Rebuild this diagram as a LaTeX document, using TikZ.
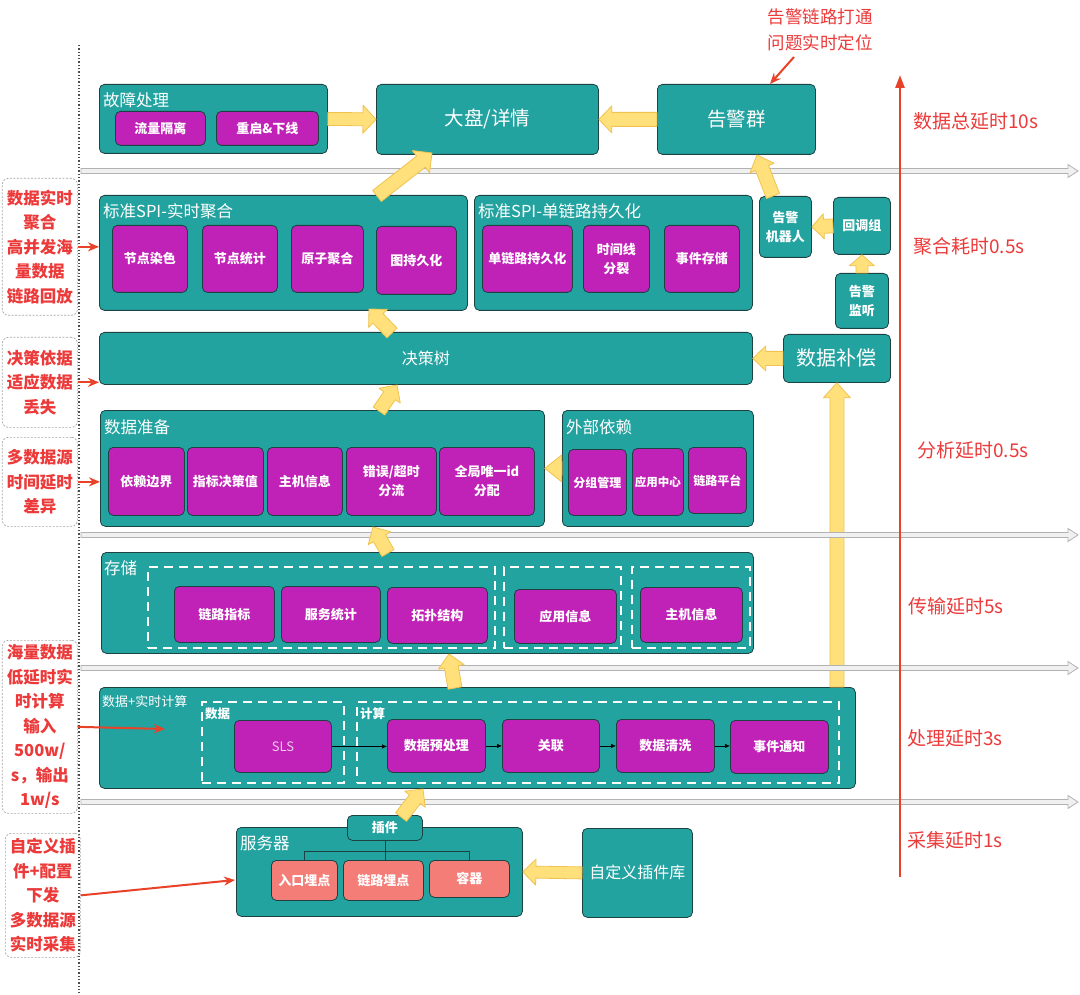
\documentclass[tikz,border=0pt]{standalone}
\usepackage{fontspec}
\setmainfont{Noto Sans CJK SC}
\usetikzlibrary{calc,arrows.meta}
\definecolor{teal1}{RGB}{35,163,160}
\definecolor{bord}{RGB}{28,66,66}
\definecolor{purp}{RGB}{192,33,182}
\definecolor{salm}{RGB}{245,125,120}
\definecolor{yel}{RGB}{255,224,122}
\definecolor{yelb}{RGB}{240,194,80}
\definecolor{redt}{RGB}{236,58,58}
\definecolor{reda}{RGB}{232,66,40}
\definecolor{slsc}{RGB}{240,200,238}
\newcommand{\fsz}[2]{\fontsize{#1}{#2}\selectfont}
\newcommand{\bx}[7]{\node[#2, anchor=north west, minimum width={(#5)-(#3)}, minimum height={(#6)-(#4)}] (#1) at (#3,#4) {#7};}
\newcommand{\fatarr}[6][fat]{%
  \coordinate (fah) at ($(#3)!#6!(#2)$);
  \draw[#1] ($(#2)!#4!90:(#3)$) -- ($(fah)!#4!90:(#3)$) -- ($(fah)!#5!90:(#3)$) -- (#3) -- ($(fah)!#5!-90:(#3)$) -- ($(fah)!#4!-90:(#3)$) -- ($(#2)!#4!-90:(#3)$) -- cycle;}
\tikzset{
  tbox/.style={draw=bord, fill=teal1, rounded corners=5pt, line width=0.8pt, text=white, inner sep=0pt, align=center},
  pbox/.style={draw=bord, fill=purp, rounded corners=5pt, line width=0.8pt, text=white, font=\bfseries\fsz{13}{19}, align=center, inner sep=0pt},
  sbox/.style={draw=bord, fill=salm, rounded corners=5pt, line width=0.8pt, text=white, font=\bfseries\fsz{13}{15}, align=center, inner sep=0pt},
  smallt/.style={font=\bfseries\fsz{13}{19}},
  dbox/.style={draw=white, dash pattern=on 9pt off 6pt, line width=1.8pt, inner sep=0pt},
  ttl/.style={anchor=west, text=white, font=\fsz{16.5}{18}, inner sep=0pt},
  lbl/.style={anchor=west, text=white, font=\bfseries\fsz{12.5}{14}, inner sep=0pt},
  fat/.style={fill=yel, draw=yelb, line width=0.8pt, line join=round},
  hline/.style={fill=gray!12, draw=gray!60, line width=0.8pt},
  note/.style={draw=gray!70, dash pattern=on 2pt off 1.5pt, rounded corners=6pt, line width=0.7pt, text=redt, align=center, font=\bfseries\fsz{16.5}{24.5}, inner sep=0pt},
  redlab/.style={text=redt, anchor=west, font=\fsz{19}{22}, inner sep=0pt},
  rarr/.style={draw=reda, line width=2pt, -{Stealth[length=11pt,width=9pt]}},
  tree/.style={draw=bord, line width=0.8pt},
  sarr/.style={draw=black, line width=0.7pt, -{Latex[length=5pt,width=4.5pt]}},
}
\begin{document}
\begin{tikzpicture}[x=1pt,y=-1pt]
\useasboundingbox (0,0) rectangle (1080,995);
\fill[white] (0,0) rectangle (1080,995);

% dotted separator
\coordinate (vd1) at (79,45);
\coordinate (vd2) at (79,995);
\draw[dotted, line width=1.3pt, black!70] (vd1) -- (vd2);

% boxes
\bx{gz}{tbox}{99}{84}{327}{153}{}
\node[ttl] (gzt) at (103,100) {故障处理};
\bx{llgl}{pbox}{115}{111}{205}{145}{流量隔离}
\bx{cq}{pbox}{216}{111}{318}{145}{重启\&下线}
\bx{dp}{tbox,font=\fsz{19.5}{22}}{376}{84}{598}{154}{大盘/详情}
\bx{gjq}{tbox,font=\fsz{19.5}{22}}{657}{84}{815}{154}{告警群}

\bx{spa}{tbox}{99}{195}{467}{310}{}
\node[ttl] (spat) at (103,211) {标准SPI-实时聚合};
\bx{jdrs}{pbox}{112}{225}{187}{292}{节点染色}
\bx{jdtj}{pbox}{202}{225}{277}{292}{节点统计}
\bx{yzjh}{pbox}{291}{225}{363}{292}{原子聚合}
\bx{tcjh}{pbox}{376}{226}{456}{294}{图持久化}
\bx{spb}{tbox}{474}{195}{752}{310}{}
\node[ttl] (spbt) at (478,211) {标准SPI-单链路持久化};
\bx{dll}{pbox}{482}{225}{572}{292}{单链路持久化}
\bx{sjx}{pbox}{583}{225}{649}{292}{时间线\\分裂}
\bx{sjcc}{pbox}{664}{225}{739}{292}{事件存储}
\bx{jqr}{tbox,smallt}{759}{196}{811}{257}{告警\\机器人}
\bx{hdz}{tbox,smallt}{833}{197}{890}{254}{回调组}
\bx{jt}{tbox,smallt}{835}{273}{888}{328}{告警\\监听}

\bx{jcs}{tbox,font=\fsz{16}{18}}{99}{332}{752}{384}{决策树}
\bx{sjbc}{tbox,font=\fsz{20}{22}}{783}{334}{890}{382}{数据补偿}

\bx{sjzb}{tbox}{100}{410}{544}{526}{}
\node[ttl] (sjzbt) at (104,427) {数据准备};
\bx{yl}{pbox}{108}{447}{184}{515}{依赖边界}
\bx{zb}{pbox}{187}{447}{263}{515}{指标决策值}
\bx{zj1}{pbox}{267}{447}{342}{515}{主机信息}
\bx{cw}{pbox}{346}{447}{436}{515}{错误/超时\\分流}
\bx{qj}{pbox}{439}{447}{534}{515}{全局唯一id\\分配}
\bx{wb}{tbox}{562}{410}{753}{526}{}
\node[ttl] (wbt) at (566,427) {外部依赖};
\bx{fz}{pbox,font=\bfseries\fsz{12}{14}}{568}{449}{626}{515}{分组管理}
\bx{yyzx}{pbox,font=\bfseries\fsz{11.5}{14}}{632}{448}{683}{515}{应用中心}
\bx{llpt}{pbox,font=\bfseries\fsz{12}{14}}{688}{447}{746}{513}{链路平台}

\bx{cc}{tbox}{101}{552}{753}{653}{}
\node[ttl] (cct) at (104,568) {存储};
\bx{dsa}{dbox}{147}{566}{494}{647}{}
\bx{dsb}{dbox}{503}{566}{620}{647}{}
\bx{dsc}{dbox}{631}{566}{749}{647}{}
\bx{llzb}{pbox}{174}{586}{274}{642}{链路指标}
\bx{fwtj}{pbox}{281}{586}{380}{642}{服务统计}
\bx{tpjg}{pbox}{387}{587}{487}{643}{拓扑结构}
\bx{yyxx}{pbox}{514}{589}{616}{643}{应用信息}
\bx{zj2}{pbox}{640}{587}{742}{642}{主机信息}

\bx{ss}{tbox}{99}{687}{855}{788}{}
\node[ttl,font=\fsz{13}{15}] (sst) at (102,702) {数据+实时计算};
\bx{dsd}{dbox}{201}{701}{343}{782}{}
\node[lbl] (dsdt) at (205,714) {数据};
\bx{dse}{dbox}{356}{701}{838}{782}{}
\node[lbl] (dset) at (360,714) {计算};
\bx{sls}{pbox,font=\fsz{13}{15},text=slsc}{234}{720}{331}{772}{SLS}
\bx{yc}{pbox}{387}{719}{485}{772}{数据预处理}
\bx{gl}{pbox}{502}{719}{599}{772}{关联}
\bx{qx}{pbox}{616}{719}{714}{772}{数据清洗}
\bx{tz}{pbox}{730}{720}{828}{773}{事件通知}
\draw[sarr] (sls.east) -- (sls.east -| yc.west);
\draw[sarr] (yc.east) -- (yc.east -| gl.west);
\draw[sarr] (gl.east) -- (gl.east -| qx.west);
\draw[sarr] (qx.east) -- (qx.east -| tz.west);

\bx{fwq}{tbox}{236}{827}{522}{916}{}
\node[ttl] (fwqt) at (240,843) {服务器};
\bx{cj}{tbox,font=\bfseries\fsz{13}{15}}{347}{815}{422}{840}{插件}
\bx{rk}{sbox}{271}{860}{337}{900}{入口埋点}
\bx{ll}{sbox}{343}{860}{423}{900}{链路埋点}
\bx{rq}{sbox}{429}{860}{509}{897}{容器}
\draw[tree] (cj.south) -- ++(0,11) coordinate (tj);
\draw[tree] (rk.north) |- (tj) -| (rq.north);
\draw[tree] (tj) -- (tj |- ll.north);
\bx{zdy}{tbox,font=\fsz{16}{18}}{582}{828}{692}{917}{自定义插件库}

% yellow long arrow (behind gray lines)
\coordinate (L1) at (ss.north -| sjbc.south);
\fatarr{L1}{sjbc.south}{7pt}{13.5pt}{15pt}

% gray horizontal arrows
\coordinate (h1a) at (81,171);  \coordinate (h1b) at (1078,171);
\coordinate (h2a) at (81,535);  \coordinate (h2b) at (1078,535);
\coordinate (h3a) at (81,668);  \coordinate (h3b) at (1078,668);
\coordinate (h4a) at (81,802);  \coordinate (h4b) at (1078,802);
\fatarr[hline]{h1a}{h1b}{2.5pt}{6.5pt}{10pt}
\fatarr[hline]{h2a}{h2b}{2.5pt}{6.5pt}{10pt}
\fatarr[hline]{h3a}{h3b}{2.5pt}{6.5pt}{10pt}
\fatarr[hline]{h4a}{h4b}{2.5pt}{6.5pt}{10pt}

% yellow block arrows
\fatarr{gz.east}{dp.west}{6.5pt}{14pt}{13pt}
\fatarr{gjq.west}{dp.east}{7pt}{13.5pt}{13pt}
\coordinate (ya3s) at (377,196); \coordinate (ya3e) at (432,153);
\fatarr{ya3s}{ya3e}{7pt}{14pt}{14pt}
\coordinate (ya4s) at (773,196); \coordinate (ya4e) at (757,155);
\fatarr{ya4s}{ya4e}{7pt}{13pt}{14pt}
\fatarr{hdz.west}{jqr.east}{7pt}{12.5pt}{12pt}
\fatarr{jt.north}{hdz.south}{6pt}{12.5pt}{11pt}
\coordinate (ya7s) at (392,333); \coordinate (ya7e) at (369,309);
\fatarr{ya7s}{ya7e}{7pt}{13pt}{13pt}
\fatarr{sjbc.west}{jcs.east}{7pt}{12.5pt}{13pt}
\coordinate (ya9s) at (379,411); \coordinate (ya9e) at (397,385);
\fatarr{ya9s}{ya9e}{7pt}{13pt}{13pt}
\fatarr{wb.west}{sjzb.east}{7pt}{13.5pt}{17pt}
\coordinate (ya11s) at (388,553); \coordinate (ya11e) at (373,527);
\fatarr{ya11s}{ya11e}{7pt}{13pt}{13pt}
\coordinate (ya12s) at (455,688); \coordinate (ya12e) at (449,654);
\fatarr{ya12s}{ya12e}{7pt}{13pt}{13pt}
\coordinate (ya14s) at (401,817); \coordinate (ya14e) at (423,789);
\fatarr{ya14s}{ya14e}{7pt}{13pt}{13pt}
\fatarr{zdy.west}{fwq.east}{6pt}{13pt}{13pt}

% annotation boxes on the left
\bx{n1}{note}{2}{178}{77}{315}{数据实时\\聚合\\高并发海\\量数据\\链路回放}
\bx{n2}{note}{2}{337}{77}{427}{决策依据\\适应数据\\丢失}
\bx{n3}{note}{2}{437}{77}{526}{多数据源\\时间延时\\差异}
\bx{n4}{note}{2}{640}{77}{813}{海量数据\\低延时实\\时计算\\输入\\500w/\\s，输出\\1w/s}
\bx{n5}{note}{5}{833}{80}{957}{自定义插\\件+配置\\下发\\多数据源\\实时采集}
\draw[rarr] (n1.east) -- (n1.east -| spa.west);
\draw[rarr] (n2.east) -- (n2.east -| jcs.west);
\draw[rarr] (n3.east) -- (n3.east -| sjzb.west);
\coordinate (a4e) at (165,729);
\draw[rarr] (n4.east) -- (a4e);
\coordinate (a5e) at (235,880);
\draw[rarr] (n5.east) -- (a5e);

% top annotation
\node[text=redt, align=center, font=\fsz{17.5}{25.5}, inner sep=0pt] (ann) at (820,30) {告警链路打通\\问题实时定位};
\coordinate (ta1) at (794,57);
\coordinate (ta2) at (770,84);
\draw[rarr] (ta1) -- (ta2);

% red vertical timeline
\coordinate (rvb) at (900,877);
\coordinate (rvt) at (900,75);
\draw[draw=reda, line width=2.5pt, -{Triangle[length=13pt,width=9pt]}] (rvb) -- (rvt);
\node[redlab] (r1) at (913,121) {数据总延时10s};
\node[redlab] (r2) at (913,246) {聚合耗时0.5s};
\node[redlab] (r3) at (917,450) {分析延时0.5s};
\node[redlab] (r4) at (908,606) {传输延时5s};
\node[redlab] (r5) at (907,738) {处理延时3s};
\node[redlab] (r6) at (907,840) {采集延时1s};
\end{tikzpicture}
\end{document}
